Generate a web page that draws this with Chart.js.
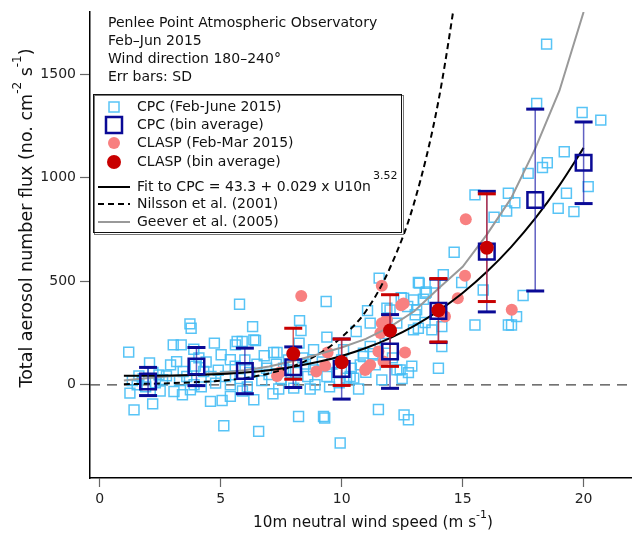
<!DOCTYPE html>
<html lang="en">
<head>
<meta charset="UTF-8">
<title>Penlee Point - aerosol flux</title>
<script src="https://cdn.jsdelivr.net/npm/chart.js"></script>
<style>
    body { margin: 0; background: #fff; }
    #caixa { width: 632px; height: 534px; }
</style>
</head>
<body>
<div id="caixa"><canvas id="grafico" width="632" height="534"></canvas></div>

<script>
// eixos
const xMin = -0.4, xMax = 22
const yMin = -450, yMax = 1800
const xTicks = [0, 5, 10, 15, 20]
const yTicks = [0, 500, 1000, 1500]

// CPC (Feb-June 2015), pontos individuais
const cpcX = [1.2, 1.25, 1.42, 1.55, 1.62, 1.35, 1.8, 2.06, 2.19, 2.3, 2.45, 2.6, 2.76, 2.93, 2.2, 1.9, 2.5,
    3.04, 3.37, 3.18, 3.07, 3.42, 3.45, 3.75, 3.73, 3.78, 3.89, 3.3, 3.6, 3.95, 4.3, 4.58, 4.74, 4.79, 4.1, 4.4, 4.6, 4.9, 4.2, 3.9,
    5.06, 5.13, 5.4, 5.02, 5.4, 5.61, 5.89, 5.68, 5.78, 5.4, 5.2, 5.6, 5.8, 6.0, 6.32, 6.37, 6.57, 6.37, 6.44, 6.2, 6.5, 6.7, 6.9, 5.9, 6.1, 6.8,
    7.16, 7.19, 7.33, 7.0, 7.3, 7.5, 7.6, 7.8, 7.9, 8.02, 8.22, 8.26, 8.32, 8.24, 8.84, 8.84, 8.5, 8.6, 8.1, 8.4, 8.9, 8.7, 7.4,
    9.25, 9.3, 9.36, 9.39, 9.39, 9.94, 10.08, 10.2, 10.5, 9.6, 9.8, 10.0, 10.35, 10.6, 10.77, 10.9, 10.9, 9.2, 9.5, 10.4, 10.7, 9.9,
    11.07, 11.18, 11.18, 11.39, 11.52, 11.55, 11.66, 11.87, 12.0, 12.28, 12.28, 12.42, 12.46, 12.56, 12.58, 12.73, 12.76, 12.76, 12.97, 12.97, 13.04, 13.1, 13.17, 13.17, 13.21, 11.3, 11.8, 12.1, 12.5, 11.0, 12.9,
    13.38, 13.45, 13.45, 13.5, 13.73, 13.86, 14.0, 14.14, 14.14, 14.2, 14.65, 14.96,
    15.51, 15.51, 15.85, 16.3, 16.82, 16.89, 16.89, 17.02, 17.16, 17.23, 17.5,
    17.71, 18.06, 18.3, 18.47, 18.5, 18.95, 19.2, 19.29, 19.6, 19.94, 20.19, 20.71]
const cpcY = [158, -40, -121, 0, 43, 20, 30, 105, -92, 10, 48, 25, 43, 96, 60, -10, -30,
    193, 193, 112, -32, -48, 64, -24, 294, 273, 172, 20, 40, 90, 64, -80, 201, 8, 130, 110, 40, 70, -10, 0,
    -76, -198, -56, 145, 121, 193, 209, 209, 389, 0, 40, 90, 30, 120, 281, -72, -225, 217, 214, 60, 100, 20, 80, -30, -10, 140,
    -43, 156, 156, 50, 100, 30, 80, 120, 10, -16, -153, 310, 262, 201, 169, 72, 100, 40, 60, 130, 0, -20, -20,
    -153, -160, 402, 230, 40, -281, 169, 32, 32, 100, 60, 120, 40, 257, 96, 137, 153, 110, -10, 80, -20, 10,
    358, 298, 185, 96, -119, 515, 24, 370, 362, 72, 298, 72, 421, 418, -145, 378, -169, 59, 265, 410, 338, 362, 494, 273, 491, 150, 200, 130, 30, 60, 90,
    413, 442, 301, 448, 265, 491, 80, 185, 281, 531, 640, 494,
    917, 289, 458, 809, 839, 925, 289, 289, 879, 329, 431,
    1021, 1359, 1049, 1645, 1072, 852, 1125, 925, 836, 1315, 957, 1278]

// CPC (bin average) e desvio padrao
const cpcBinX = [2, 4, 6, 8, 10, 12, 14, 16, 18, 20]
const cpcBinY = [16, 88, 67, 85, 76, 161, 357, 643, 892, 1072]
const cpcBinSD = [68, 92, 110, 98, 145, 178, 153, 291, 439, 197]

// CLASP (Feb-Mar 2015)
const claspX = [7.33, 7.44, 8.33, 8.95, 9.32, 9.42, 11.04, 11.18, 10.97, 11.52, 11.66, 11.66, 11.6, 11.73, 11.87, 12.46, 12.56, 12.62, 14.27, 14.8, 15.1, 15.13, 17.03]
const claspY = [43, 59, 429, 64, 92, 156, 80, 96, 72, 161, 297, 478, 250, 112, 317, 384, 392, 156, 330, 418, 526, 799, 362]

// CLASP (bin average)
const claspBinX = [8, 10, 12, 14, 16]
const claspBinY = [150, 109, 262, 360, 662]
const claspBinSD = [123, 112, 173, 153, 260]

// curvas
const curvaX = [1, 2, 3, 4, 5, 6, 7, 8, 9, 10, 11, 12, 13, 14, 15, 16, 17, 18, 19, 20]
const fitY = [43.3, 43.6, 44.7, 47.1, 51.7, 59.2, 70.7, 87.1, 109.6, 139.3, 177.6, 225.7, 285.0, 357.1, 443.2, 545.6, 664.8, 803.1, 962.6, 1144]
const geeverY = [21, 33, 42, 50, 58, 70, 88, 115, 146, 180, 222, 280, 355, 465, 570, 725, 900, 1140, 1420, 1800]
const nilssonX = [1, 2, 3, 4, 5, 6, 7, 8, 9, 10, 11, 12, 13, 14, 15]
const nilssonY = [3, 5, 8, 13, 20, 32, 55, 90, 145, 230, 355, 565, 880, 1370, 2100]

const notas = ['Penlee Point Atmospheric Observatory', 'Feb\u2013Jun 2015', 'Wind direction 180\u2013240\u00b0', 'Err bars: SD']

const fonte = '"DejaVu Sans", sans-serif'
const azulClaro = 'rgba(70,190,245,0.9)'
const azulEscuro = '#0a0a96'
const salmao = 'rgb(248,128,128)'
const vermelho = '#c80000'

function pares(xs, ys) {
    return xs.map((x, i) => ({ x: x, y: ys[i] }))
}

// barras de erro: linha vertical de media-sd ate media+sd, com quebra entre elas
function barras(xs, ys, sds) {
    var lista = []
    xs.forEach((x, i) => {
        lista.push({ x: x, y: ys[i] - sds[i] })
        lista.push({ x: x, y: ys[i] + sds[i] })
        lista.push({ x: x, y: null })
    })
    return lista
}

const textos = {
    id: 'textos',
    afterDraw(chart) {
        const ctx = chart.ctx
        ctx.save()
        ctx.fillStyle = '#111'
        ctx.textBaseline = 'middle'
        ctx.font = '14px ' + fonte
        notas.forEach((t, i) => ctx.fillText(t, 108, 23 + i * 18))

        // caixa da legenda
        ctx.strokeStyle = '#777'
        ctx.lineWidth = 1
        ctx.strokeRect(94.5, 95.5, 309, 139)
        ctx.strokeStyle = '#111'
        ctx.strokeRect(93.5, 94.5, 308, 138)

        const mx = 114, tx = 137
        // CPC pontos
        ctx.strokeStyle = azulClaro
        ctx.lineWidth = 1.5
        ctx.strokeRect(mx - 5, 107 - 5, 10, 10)
        // CPC bin
        ctx.strokeStyle = azulEscuro
        ctx.lineWidth = 2.5
        ctx.strokeRect(mx - 8, 125 - 8, 16, 16)
        // CLASP
        ctx.fillStyle = salmao
        ctx.beginPath(); ctx.arc(mx, 143, 6, 0, Math.PI * 2); ctx.fill()
        ctx.fillStyle = vermelho
        ctx.beginPath(); ctx.arc(mx, 162, 7, 0, Math.PI * 2); ctx.fill()
        // linhas
        ctx.lineWidth = 2
        ctx.strokeStyle = '#000'
        ctx.beginPath(); ctx.moveTo(98, 187); ctx.lineTo(130, 187); ctx.stroke()
        ctx.setLineDash([6, 4])
        ctx.beginPath(); ctx.moveTo(98, 204); ctx.lineTo(130, 204); ctx.stroke()
        ctx.setLineDash([])
        ctx.strokeStyle = '#999'
        ctx.beginPath(); ctx.moveTo(98, 222); ctx.lineTo(130, 222); ctx.stroke()

        ctx.fillStyle = '#111'
        ctx.font = '14px ' + fonte
        ctx.fillText('CPC (Feb-June 2015)', tx, 107)
        ctx.fillText('CPC (bin average)', tx, 125)
        ctx.fillText('CLASP (Feb-Mar 2015)', tx, 143)
        ctx.fillText('CLASP (bin average)', tx, 162)
        const fit = 'Fit to CPC = 43.3 + 0.029 x U10n'
        ctx.fillText(fit, tx, 187)
        const w = ctx.measureText(fit).width
        ctx.font = '11px ' + fonte
        ctx.fillText('3.52', tx + w + 2, 176)
        ctx.font = '14px ' + fonte
        ctx.fillText('Nilsson et al. (2001)', tx, 204)
        ctx.fillText('Geever et al. (2005)', tx, 222)

        // titulos dos eixos com expoentes
        desenhaTitulo(ctx, [['10m neutral wind speed (m s', 0], ['-1', 1], [')', 0]], 373, 523, 0, 15.2)
        desenhaTitulo(ctx, [['Total aerosol number flux (no. cm', 0], ['-2', 1], [' s', 0], ['-1', 1], [')', 0]], 27, 218, -Math.PI / 2, 17.5)
        ctx.restore()
    }
}

function desenhaTitulo(ctx, partes, cx, cy, ang, tam) {
    const grande = tam + 'px ' + fonte, pequeno = Math.round(tam * 0.7) + 'px ' + fonte
    var total = 0
    partes.forEach(p => {
        ctx.font = p[1] ? pequeno : grande
        total += ctx.measureText(p[0]).width
    })
    ctx.save()
    ctx.translate(cx, cy)
    ctx.rotate(ang)
    ctx.textBaseline = 'middle'
    ctx.fillStyle = '#111'
    var x = -total / 2
    partes.forEach(p => {
        ctx.font = p[1] ? pequeno : grande
        ctx.fillText(p[0], x, p[1] ? -tam * 0.5 : 0)
        x += ctx.measureText(p[0]).width
    })
    ctx.restore()
}

const config = {
    type: 'scatter',
    data: {
        datasets: [
            {
                label: 'CLASP (bin average)', data: pares(claspBinX, claspBinY), order: 1,
                pointStyle: 'circle', pointRadius: 7, backgroundColor: vermelho, borderWidth: 0
            },
            {
                label: 'CPC (bin average)', data: pares(cpcBinX, cpcBinY), order: 2,
                pointStyle: 'rect', pointRadius: 11, borderColor: azulEscuro, backgroundColor: 'transparent', borderWidth: 2.5
            },
            {
                label: 'CLASP SD', data: barras(claspBinX, claspBinY, claspBinSD), order: 3, showLine: true, spanGaps: false,
                borderColor: 'rgba(205,40,40,0.75)', borderWidth: 1.5,
                pointStyle: 'line', pointRadius: 9, pointBorderWidth: 3, pointBorderColor: vermelho
            },
            {
                label: 'CPC SD', data: barras(cpcBinX, cpcBinY, cpcBinSD), order: 4, showLine: true, spanGaps: false,
                borderColor: 'rgba(30,30,170,0.7)', borderWidth: 1.5,
                pointStyle: 'line', pointRadius: 9, pointBorderWidth: 3, pointBorderColor: azulEscuro
            },
            {
                label: 'Fit to CPC', data: pares(curvaX, fitY), order: 5, showLine: true,
                borderColor: '#000', borderWidth: 2, pointRadius: 0, cubicInterpolationMode: 'monotone'
            },
            {
                label: 'Geever et al. (2005)', data: pares(curvaX, geeverY), order: 6, showLine: true,
                borderColor: '#999', borderWidth: 2, pointRadius: 0
            },
            {
                label: 'Nilsson et al. (2001)', data: pares(nilssonX, nilssonY), order: 7, showLine: true,
                borderColor: '#000', borderWidth: 2, borderDash: [6, 4], pointRadius: 0, cubicInterpolationMode: 'monotone'
            },
            {
                label: 'CLASP (Feb-Mar 2015)', data: pares(claspX, claspY), order: 8,
                pointStyle: 'circle', pointRadius: 6, backgroundColor: salmao, borderWidth: 0
            },
            {
                label: 'CPC (Feb-June 2015)', data: pares(cpcX, cpcY), order: 9,
                pointStyle: 'rect', pointRadius: 7, borderColor: azulClaro, backgroundColor: 'transparent', borderWidth: 1.5
            },
            {
                label: 'zero', data: [{ x: xMin, y: 0 }, { x: xMax, y: 0 }], order: 10, showLine: true,
                borderColor: '#444', borderWidth: 1.2, borderDash: [10, 7], pointRadius: 0
            }
        ]
    },
    options: {
        responsive: false,
        animation: false,
        events: [],
        layout: { autoPadding: false, padding: { top: 12, left: 0, right: 0, bottom: 0 } },
        plugins: { legend: { display: false }, tooltip: { enabled: false } },
        scales: {
            x: {
                type: 'linear', min: xMin, max: xMax,
                afterBuildTicks: s => { s.ticks = xTicks.map(v => ({ value: v })) },
                afterFit: s => { s.height = 56; s.paddingLeft = 0; s.paddingRight = 0 },
                grid: { drawOnChartArea: false, drawTicks: true, tickLength: 9, tickColor: '#666', tickWidth: 1.2 },
                border: { display: true, color: '#000', width: 1.5 },
                ticks: { color: '#222', font: { family: fonte, size: 14 }, padding: 4, maxRotation: 0 }
            },
            y: {
                type: 'linear', min: yMin, max: yMax,
                afterBuildTicks: s => { s.ticks = yTicks.map(v => ({ value: v })) },
                afterFit: s => { s.width = 90; s.paddingTop = 0; s.paddingBottom = 0 },
                grid: { drawOnChartArea: false, drawTicks: true, tickLength: 10, tickColor: '#666', tickWidth: 1.2 },
                border: { display: true, color: '#000', width: 1.5 },
                ticks: { color: '#222', font: { family: fonte, size: 14 }, padding: 4, callback: v => String(v) }
            }
        }
    },
    plugins: [textos]
}

const grafico = new Chart(document.getElementById('grafico'), config)
</script>
</body>
</html>
